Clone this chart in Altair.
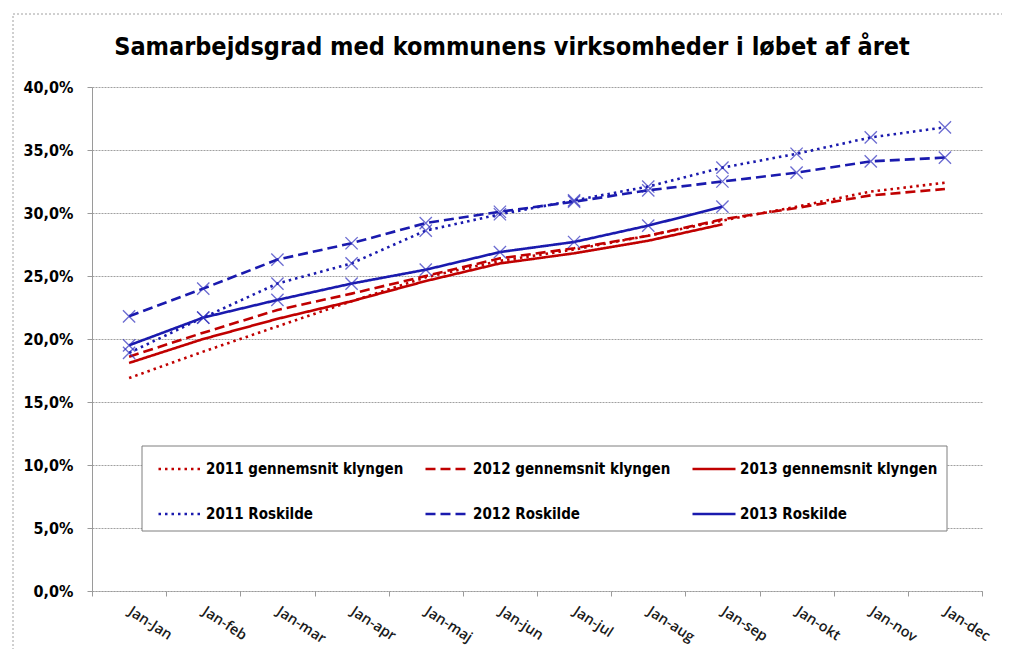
import altair as alt
import pandas as pd

months = ["Jan-Jan", "Jan-feb", "Jan-mar", "Jan-apr", "Jan-maj", "Jan-jun",
          "Jan-jul", "Jan-aug", "Jan-sep", "Jan-okt", "Jan-nov", "Jan-dec"]

series_names = ["2011 gennemsnit klyngen", "2012 gennemsnit klyngen", "2013 gennemsnit klyngen",
                "2011 Roskilde", "2012 Roskilde", "2013 Roskilde"]

avg2011 = [16.9, 19.0, 21.0, 23.0, 24.9, 26.2, 27.1, 28.2, 29.4, 30.5, 31.7, 32.4]
avg2012 = [18.6, 20.5, 22.3, 23.6, 25.0, 26.4, 27.2, 28.2, 29.5, 30.4, 31.4, 31.9]
avg2013 = [18.1, 20.0, 21.6, 23.0, 24.6, 26.0, 26.8, 27.8, 29.1]
ros2011 = [18.9, 21.7, 24.4, 26.0, 28.6, 29.9, 31.0, 32.1, 33.6, 34.7, 36.0, 36.8]
ros2012 = [21.8, 24.0, 26.3, 27.6, 29.2, 30.1, 30.9, 31.8, 32.5, 33.2, 34.1, 34.4]
ros2013 = [19.5, 21.7, 23.1, 24.4, 25.5, 26.9, 27.7, 29.0, 30.5]

y_ticks = [0, 5, 10, 15, 20, 25, 30, 35, 40]

title_text = "Samarbejdsgrad med kommunens virksomheder i løbet af året"

RED = "#C00000"
BLUE = "#1A1AAE"
series_colors = [RED, RED, RED, BLUE, BLUE, BLUE]
series_dashes = [[2.5, 4], [10, 5], [1, 0], [2.5, 4], [10, 5], [1, 0]]

rows = []
for name, vals in zip(series_names, [avg2011, avg2012, avg2013, ros2011, ros2012, ros2013]):
    for m, v in zip(months, vals):
        rows.append({"series": name, "month": m, "value": v})
df = pd.DataFrame(rows)
ros_df = df[df["series"].str.contains("Roskilde")]

FONT = "DejaVu Sans Condensed"

x_enc = alt.X(
    "month:N", sort=months, bandPosition=0.5,
    scale=alt.Scale(type="band", paddingInner=0, paddingOuter=0),
    axis=alt.Axis(title=None, tickBand="extent", labelAngle=33, labelAlign="left",
                  labelBaseline="middle", labelPadding=14, tickSize=5,
                  labelFont="Open Sans", labelFontSize=14.5, labelFontWeight=600,
                  labelColor="#1A1A1A", domainColor="#9A9A9A", tickColor="#9A9A9A",
                  domainDash=[2, 1], grid=False),
)
y_enc = alt.Y(
    "value:Q",
    scale=alt.Scale(domain=[0, 40], nice=False),
    axis=alt.Axis(title=None, values=y_ticks,
                  labelExpr="replace(format(datum.value, '.1f'), '.', ',') + '%'",
                  labelFont=FONT, labelFontSize=16, labelFontWeight="bold",
                  labelColor="#000000", labelPadding=14, tickSize=5,
                  tickColor="#9A9A9A", domainColor="#9A9A9A",
                  grid=True, gridColor="#A0A0A0", gridDash=[2, 1], gridWidth=1),
)

lines = alt.Chart(df).mark_line(strokeWidth=2.6).encode(
    x=x_enc,
    y=y_enc,
    color=alt.Color("series:N", scale=alt.Scale(domain=series_names, range=series_colors),
                    legend=alt.Legend(title=None)),
    strokeDash=alt.StrokeDash("series:N", scale=alt.Scale(domain=series_names, range=series_dashes),
                              legend=alt.Legend(title=None)),
    detail="series:N",
)

markers = alt.Chart(ros_df).mark_point(
    shape="M-1,-1L1,1M-1,1L1,-1", size=150, strokeWidth=1.3, color="#2E2EBE", filled=False
).encode(
    x=alt.X("month:N", sort=months, bandPosition=0.5),
    y="value:Q",
)

one = pd.DataFrame({"a": [0]})

frame = alt.Chart(one).mark_rect(
    fill=None, stroke="#A0A0A0", strokeDash=[2, 2], strokeWidth=1
).encode(
    x=alt.value(-79), x2=alt.value(1000), y=alt.value(-73), y2=alt.value(700)
)

legend_box = alt.Chart(one).mark_rect(
    fill="#FFFFFF", stroke="#7F7F7F", strokeWidth=1
).encode(
    x=alt.value(50), x2=alt.value(855), y=alt.value(359), y2=alt.value(444)
)

title = alt.Chart(pd.DataFrame({"t": [title_text]})).mark_text(
    font=FONT, fontSize=25, fontWeight="bold", color="#000000",
    align="center", baseline="alphabetic"
).encode(
    x=alt.value(420), y=alt.value(-32), text="t:N"
)

chart = alt.layer(frame, title, legend_box, lines, markers).properties(
    width=890, height=504,
    padding={"left": 84, "top": 79, "right": 20, "bottom": 58},
    autosize=alt.AutoSizeParams(type="none"),
).configure_view(stroke=None).configure_legend(
    orient="none", legendX=65, legendY=359, columns=3, direction="horizontal",
    padding=0, strokeColor=None,
    symbolType="stroke", symbolSize=1850, symbolStrokeWidth=2.6,
    labelFont=FONT, labelFontSize=15, labelFontWeight="bold", labelColor="#000000",
    labelOffset=3, columnPadding=16, rowPadding=14, labelLimit=320,
)

chart.save("out.html", embed_options={"renderer": "svg", "actions": False})
